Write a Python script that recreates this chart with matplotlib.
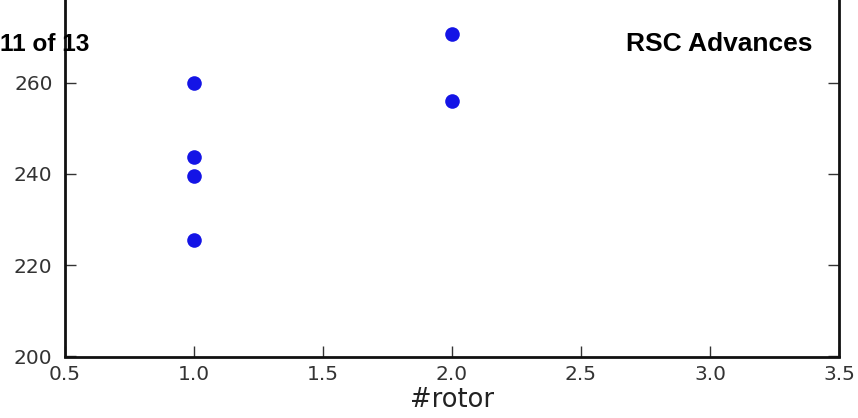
import matplotlib
matplotlib.use("Agg")
import matplotlib.pyplot as plt
import numpy as np

# Data
rotor = [1, 1, 1, 1, 2, 2]
value = [260.0, 243.6, 239.6, 225.5, 270.6, 256.0]

xticks = [0.5, 1.0, 1.5, 2.0, 2.5, 3.0, 3.5]
yticks = [200, 220, 240, 260]
xlabel = "#rotor"
header_left = "11 of 13"
header_right = "RSC Advances"

W, H = 858, 418
fig = plt.figure(figsize=(W / 100, H / 100), dpi=100)
fig.patch.set_facecolor("white")

left, right = 65 / W, 839 / W
bottom = (H - 356.5) / H
# y scale: 4.565 px per unit; top of axes at y=300 lies above the picture
top = (H - 356.5 + 100 * 4.565) / H
ax = fig.add_axes([left, bottom, right - left, top - bottom])

ax.plot(rotor, value, "o", color="#1414e6", markersize=10.5, markeredgewidth=0, zorder=3)

ax.set_xlim(0.5, 3.5)
ax.set_ylim(200, 300)
ax.set_xticks(xticks)
ax.set_yticks(yticks)
ax.set_xticklabels([f"{t:.1f}" for t in xticks])
ax.set_yticklabels([str(t) for t in yticks])

for s in ax.spines.values():
    s.set_linewidth(2.0)
    s.set_color("#111111")

ax.tick_params(direction="in", length=8, width=1, color="#333333",
               top=True, right=True, labelsize=14.5, labelcolor="#333333")
ax.tick_params(axis="x", pad=6)
ax.tick_params(axis="y", pad=9)

ax.set_xlabel(xlabel, fontsize=18.5, color="#222222", labelpad=2)

fig.text(0.5 / W, 1 - 51 / H, header_left, ha="left", va="baseline",
         fontsize=17.6, fontweight="bold", family="Liberation Sans", color="black", zorder=10)
fig.text(812 / W, 1 - 51 / H, header_right, ha="right", va="baseline",
         fontsize=19, fontweight="bold", family="Liberation Sans", color="black", zorder=10)

fig.savefig("out.png", dpi=100, facecolor="white")
